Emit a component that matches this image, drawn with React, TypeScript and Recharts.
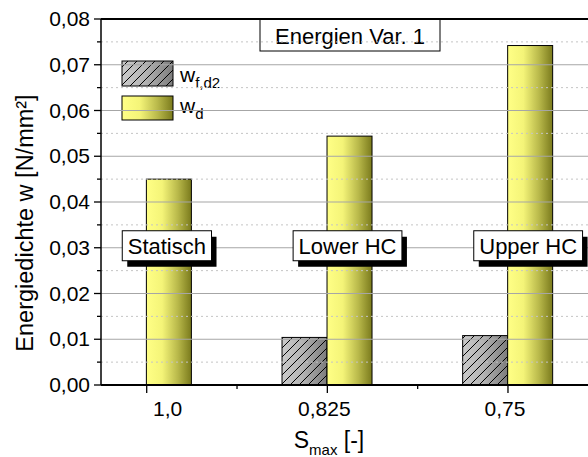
import React from 'react'
import { BarChart, Bar, XAxis, YAxis, ReferenceLine, LabelList } from 'recharts'

// category positions on the S_max axis and their labels
const categories = [1, 2, 3]
const categoryLabels = ['1,0', '0,825', '0,75']
const minorX = [1.5, 2.5]

// series values [N/mm²]
const wfd2Values = [null, 0.0104, 0.0108]
const wdValues = [0.045, 0.0544, 0.0742]
const phaseLabels = ['Statisch', 'Lower HC', 'Upper HC']
const phaseLevel = 0.03

const majorY = [0, 0.01, 0.02, 0.03, 0.04, 0.05, 0.06, 0.07, 0.08]
const minorY = [0.005, 0.015, 0.025, 0.035, 0.045, 0.055, 0.065, 0.075]

const data = categories.map((x, i) => ({
  x,
  wfd2: wfd2Values[i],
  wd: wdValues[i],
  phase: phaseLabels[i],
}))

const FONT = "'Liberation Sans', Arial, Helvetica, sans-serif"

let ctx: CanvasRenderingContext2D | null = null
function measure(text: string, size: number) {
  if (!ctx) ctx = document.createElement('canvas').getContext('2d')
  if (!ctx) return text.length * size * 0.55
  ctx.font = `${size}px ${FONT}`
  return ctx.measureText(text).width
}

const fmt = (v: number) => v.toFixed(2).replace('.', ',')

function YTick(props: any) {
  const { x, y, payload } = props
  const v = payload.value
  const major = majorY.some((m) => Math.abs(m - v) < 1e-9)
  return (
    <g>
      <line x1={x - (major ? 7 : 4)} x2={x} y1={y} y2={y} stroke="#000" strokeWidth={1.3} />
      {major && (
        <text x={x - 11} y={y + 7} textAnchor="end" fontSize={21} fontFamily={FONT} fill="#000">
          {fmt(v)}
        </text>
      )}
    </g>
  )
}

function XTick(props: any) {
  const { x, y, payload } = props
  const i = categories.indexOf(payload.value)
  // first label sits off to the right in the original
  const dx = i === 0 ? 21 : -3
  return (
    <g>
      <line x1={x} x2={x} y1={y} y2={y + (i >= 0 ? 8 : 4)} stroke="#000" strokeWidth={1.3} />
      {i >= 0 && (
        <text x={x + dx} y={y + 31} textAnchor="middle" fontSize={21} fontFamily={FONT} fill="#000">
          {categoryLabels[i]}
        </text>
      )}
    </g>
  )
}

function HatchBar(props: any) {
  const { x, y, width, height } = props
  if (!height || height <= 0) return null
  return (
    <g>
      <rect x={x} y={y} width={width} height={height} fill="url(#grayGrad)" />
      <rect x={x} y={y} width={width} height={height} fill="url(#hatch)" />
      <rect x={x} y={y} width={width} height={height} fill="none" stroke="#000" strokeWidth={1} />
    </g>
  )
}

function YellowBar(props: any) {
  const { x, y, width, height } = props
  if (!height || height <= 0) return null
  return <rect x={x} y={y} width={width} height={height} fill="url(#yellowGrad)" stroke="#000" strokeWidth={1} />
}

function PhaseBox(props: any) {
  const vb = props.viewBox && props.viewBox.height != null ? props.viewBox : props
  const { x, y, width, height } = vb
  const text = String(props.value)
  const i = phaseLabels.indexOf(text)
  if (i < 0) return null
  const base = y + height
  const cy = base - height * (phaseLevel / wdValues[i])
  const w = measure(text, 22) + 11
  const h = 30
  const cx = x + width / 2 - 2
  const bx = cx - w / 2
  const by = cy - 17
  return (
    <g>
      <rect x={bx + 5} y={by + 6} width={w} height={h} fill="#000" />
      <rect x={bx} y={by} width={w} height={h} fill="#fff" stroke="#000" strokeWidth={1} />
      <text x={cx} y={by + 23} textAnchor="middle" fontSize={22} fontFamily={FONT} fill="#000">
        {text}
      </text>
    </g>
  )
}

export default function App() {
  const yTicks = [...majorY, ...minorY].sort((a, b) => a - b)
  const xTicks = [...categories, ...minorX].sort((a, b) => a - b)
  return (
    <div style={{ position: 'absolute', left: 0, top: 0, width: 588, height: 457, background: '#fff', fontFamily: FONT }}>
      <BarChart width={588} height={457} data={data} margin={{ top: 19, right: 0, bottom: 0, left: 0 }} barGap={0}>
        <defs>
          <linearGradient id="yellowGrad" x1="0" y1="0" x2="1" y2="0">
            <stop offset="0%" stopColor="#ffff86" />
            <stop offset="35%" stopColor="#f4f478" />
            <stop offset="70%" stopColor="#b8b84a" />
            <stop offset="100%" stopColor="#7a7a1c" />
          </linearGradient>
          <linearGradient id="grayGrad" x1="0" y1="0" x2="1" y2="0">
            <stop offset="0%" stopColor="#cacaca" />
            <stop offset="45%" stopColor="#b4b4b4" />
            <stop offset="100%" stopColor="#7c7c7c" />
          </linearGradient>
          <pattern id="hatch" patternUnits="userSpaceOnUse" width="9" height="9">
            <path d="M-2,2 l4,-4 M0,9 l9,-9 M7,11 l4,-4" stroke="#000" strokeWidth={1} />
          </pattern>
        </defs>

        <XAxis
          dataKey="x"
          type="number"
          domain={[0.747, 3.443]}
          ticks={xTicks}
          interval={0}
          height={72}
          tickSize={0}
          tickMargin={0}
          tickLine={false}
          tick={<XTick />}
          axisLine={{ stroke: '#000', strokeWidth: 2 }}
          allowDataOverflow
        />
        <YAxis
          type="number"
          domain={[0, 0.08]}
          ticks={yTicks}
          interval={0}
          width={101}
          tickSize={0}
          tickMargin={0}
          tickLine={false}
          tick={<YTick />}
          axisLine={{ stroke: '#000', strokeWidth: 1.5 }}
          allowDataOverflow
        />

        {minorY.map((v) => (
          <ReferenceLine key={'mi' + v} y={v} stroke="#c4c4c4" strokeDasharray="2 3" strokeWidth={1} />
        ))}
        {majorY.slice(1, -1).map((v) => (
          <ReferenceLine key={'ma' + v} y={v} stroke="#a6a6a6" strokeWidth={1.2} />
        ))}
        <ReferenceLine y={0.08} stroke="#000" strokeWidth={2} />

        <Bar dataKey="wfd2" name="w_f,d2" barSize={45} shape={<HatchBar />} isAnimationActive={false} />
        <Bar dataKey="wd" name="w_d" barSize={45} shape={<YellowBar />} isAnimationActive={false}>
          <LabelList dataKey="phase" content={<PhaseBox />} />
        </Bar>

        {/* legend */}
        <g>
          <rect x={113} y={50} width={119} height={78} fill="#fff" />
          <rect x={122} y={61} width={51} height={25} fill="url(#grayGrad)" />
          <rect x={122} y={61} width={51} height={25} fill="url(#hatch)" />
          <rect x={122} y={61} width={51} height={25} fill="none" stroke="#000" strokeWidth={1} />
          <text x={180} y={82} fontSize={21} fontFamily={FONT} fill="#000">
            w<tspan fontSize={15} dy={6}>f,d2</tspan>
          </text>
          <rect x={122} y={96} width={51} height={24} fill="url(#yellowGrad)" stroke="#000" strokeWidth={1} />
          <text x={180} y={113} fontSize={21} fontFamily={FONT} fill="#000">
            w<tspan fontSize={15} dy={6}>d</tspan>
          </text>
        </g>

        {/* title */}
        <g>
          <rect x={260} y={19.5} width={180} height={31.5} fill="#fff" stroke="#000" strokeWidth={1} />
          <text x={350} y={44} textAnchor="middle" fontSize={22} fontFamily={FONT} fill="#000">
            Energien Var. 1
          </text>
        </g>

        {/* axis titles */}
        <text
          x={0}
          y={0}
          transform="translate(33 223) rotate(-90)"
          textAnchor="middle"
          fontSize={23.5}
          fontFamily={FONT}
          fill="#000"
        >
          Energiedichte w [N/mm²]
        </text>
        <text x={329} y={448} textAnchor="middle" fontSize={23} fontFamily={FONT} fill="#000">
          S<tspan fontSize={15} dy={7}>max</tspan>
          <tspan dy={-7}> [-]</tspan>
        </text>
      </BarChart>
    </div>
  )
}
